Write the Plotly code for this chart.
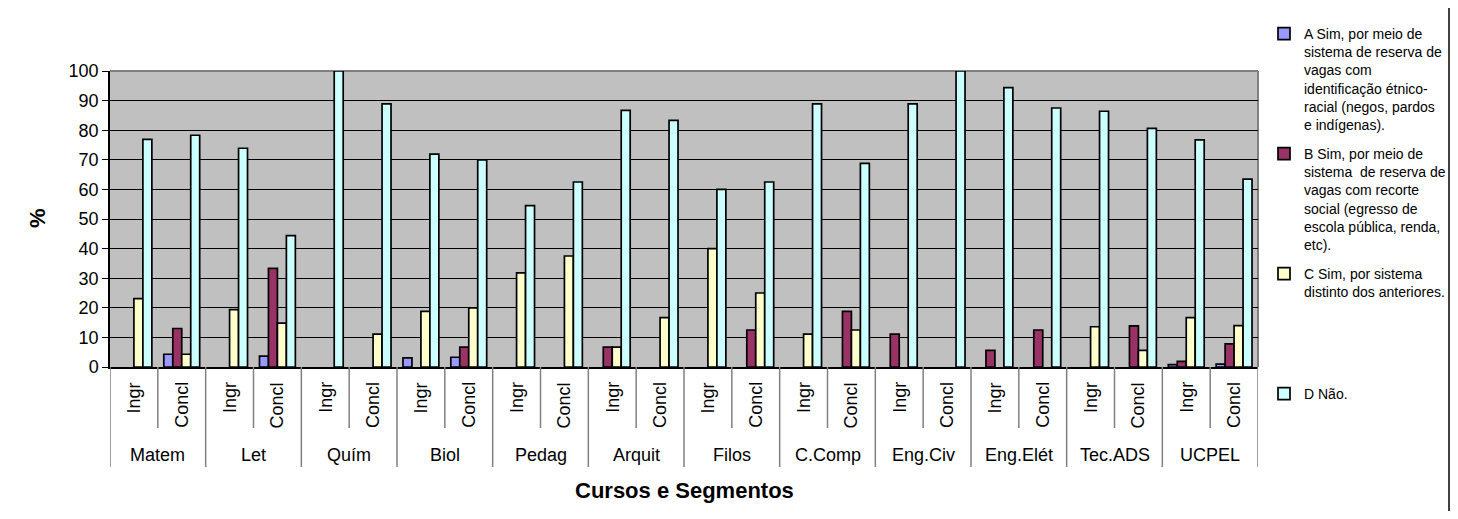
import plotly.graph_objects as go

courses = ["Matem", "Let", "Quím", "Biol", "Pedag", "Arquit", "Filos",
           "C.Comp", "Eng.Civ", "Eng.Elét", "Tec.ADS", "UCPEL"]
segments = ["Ingr", "Concl"]

series_names = [
    "A Sim, por meio de<br>sistema de reserva de<br>vagas com<br>identificação étnico-<br>racial (negos, pardos<br>e indígenas).",
    "B Sim, por meio de<br>sistema  de reserva de<br>vagas com recorte<br>social (egresso de<br>escola pública, renda,<br>etc).",
    "C Sim, por sistema<br>distinto dos anteriores.",
    "D Não.",
]
series_colors = ["#9999FF", "#993366", "#FFFFCC", "#CCFFFF"]

a_vals = [None, 4.3, None, 3.7, None, None, 3.1, 3.3, None, None, None, None,
          None, None, None, None, None, None, None, None, None, None, 0.8, 1.0]
b_vals = [None, 13.0, None, 33.3, None, None, None, 6.7, None, None, 6.7, None,
          None, 12.5, None, 18.8, 11.1, None, 5.6, 12.5, None, 13.9, 1.9, 7.8]
c_vals = [23.1, 4.3, 19.4, 14.8, None, 11.1, 18.8, 20.0, 31.8, 37.5, 6.7, 16.7,
          40.0, 25.0, 11.1, 12.5, None, None, None, None, 13.6, 5.6, 16.7, 14.0]
d_vals = [76.9, 78.3, 73.9, 44.4, 100.0, 88.9, 71.9, 70.0, 54.5, 62.5, 86.7, 83.3,
          60.0, 62.5, 88.9, 68.8, 88.9, 100.0, 94.4, 87.5, 86.4, 80.6, 76.7, 63.5]

y_ticks = [0, 10, 20, 30, 40, 50, 60, 70, 80, 90, 100]

FONT = "Liberation Sans, Arial, sans-serif"

# the page body has an 8px margin on every side; keep the figure inside the
# window (no scrollbars) and work in page pixels
OFF = 8
PAGE_W, PAGE_H = 1458, 519
W, H = PAGE_W - 2 * OFF, PAGE_H - 2 * OFF
PL, PR, PT, PB = 110, 1258, 71, 367   # plot area in page pixels
ML, MT = PL - OFF, PT - OFF
MR, MB = W - (PR - OFF), H - (PB - OFF)
PW, PH = PR - PL, PB - PT


def py(px):
    """page pixel y -> paper y"""
    return (PB - px) / PH


def pxx(px):
    """page pixel x -> paper x"""
    return (px - PL) / PW


labels = [(c, s) for c in courses for s in segments]
xpos = list(range(len(labels)))

fig = go.Figure()
legends = ["legend", "legend2", "legend3", "legend4"]
for name, vals, col, lg in zip(series_names, [a_vals, b_vals, c_vals, d_vals], series_colors, legends):
    fig.add_trace(go.Bar(
        x=xpos, y=vals, name=name, legend=lg,
        marker=dict(color=col, line=dict(color="black", width=1.7)),
        showlegend=True,
    ))

annotations = []
shapes = []
# segment labels (rotated)
for i, (c, s) in enumerate(labels):
    annotations.append(dict(
        x=i, y=py(380), xref="x", yref="paper", text=s, textangle=-90,
        showarrow=False, xanchor="center", yanchor="top",
        font=dict(family=FONT, size=18, color="black"),
    ))
# course labels
for j, c in enumerate(courses):
    annotations.append(dict(
        x=2 * j + 0.5, y=py(455), xref="x", yref="paper", text=c,
        showarrow=False, xanchor="center", yanchor="middle",
        font=dict(family=FONT, size=18, color="black"),
    ))
# dividers
for k in range(len(labels) + 1):
    xb = k - 0.5
    bottom = 467 if k % 2 == 0 else 428
    shapes.append(dict(
        type="line", xref="x", yref="paper", x0=xb, x1=xb,
        y0=py(PB), y1=py(bottom), line=dict(color="#808080", width=1.5),
    ))
# plot area top/right border
shapes.append(dict(type="line", xref="paper", yref="paper", x0=0, x1=1, y0=1, y1=1,
                   line=dict(color="#808080", width=2), layer="between"))
shapes.append(dict(type="line", xref="paper", yref="paper", x0=1, x1=1, y0=0, y1=1,
                   line=dict(color="#808080", width=2), layer="between"))
# chart outer right border
shapes.append(dict(type="line", xref="paper", yref="paper", x0=pxx(1449), x1=pxx(1449),
                   y0=py(OFF), y1=py(OFF + H), line=dict(color="black", width=1.5)))

# axis titles
annotations.append(dict(
    x=0.5, y=py(490), xref="paper", yref="paper", text="<b>Cursos e Segmentos</b>",
    showarrow=False, xanchor="center", yanchor="middle",
    font=dict(family=FONT, size=22, color="black"),
))
annotations.append(dict(
    x=pxx(37), y=py(218), xref="paper", yref="paper", text="<b>%</b>", textangle=-90,
    showarrow=False, xanchor="center", yanchor="middle",
    font=dict(family=FONT, size=22, color="black"),
))

legend_tops = [18, 138, 258, 378]
leg_common = dict(
    xanchor="left", yanchor="top", bgcolor="rgba(0,0,0,0)", borderwidth=0,
    font=dict(family=FONT, size=14, color="black"), valign="top",
    itemwidth=30, tracegroupgap=0,
)
layout_legends = {}
for lg, top in zip(legends, legend_tops):
    layout_legends[lg] = dict(x=pxx(1264), y=py(top), **leg_common)

fig.update_layout(
    width=W, height=H, autosize=False,
    margin=dict(l=ML, r=MR, t=MT, b=MB, pad=0, autoexpand=False),
    paper_bgcolor="white", plot_bgcolor="#C0C0C0",
    barmode="group", bargap=0.25, bargroupgap=0,
    font=dict(family=FONT, size=18, color="black"),
    xaxis=dict(range=[-0.5, len(labels) - 0.5], showticklabels=False, ticks="",
               showgrid=False, zeroline=False, showline=True, linecolor="black", linewidth=1.5,
               fixedrange=True),
    yaxis=dict(range=[0, 100], tickvals=y_ticks, ticks="outside", ticklen=6, tickcolor="black",
               tickwidth=1.2, tickfont=dict(family=FONT, size=18, color="black"),
               showgrid=True, gridcolor="black", gridwidth=1, zeroline=False,
               showline=True, linecolor="black", linewidth=1.5, fixedrange=True),
    annotations=annotations, shapes=shapes,
    **layout_legends,
)

fig.write_html("out.html")
